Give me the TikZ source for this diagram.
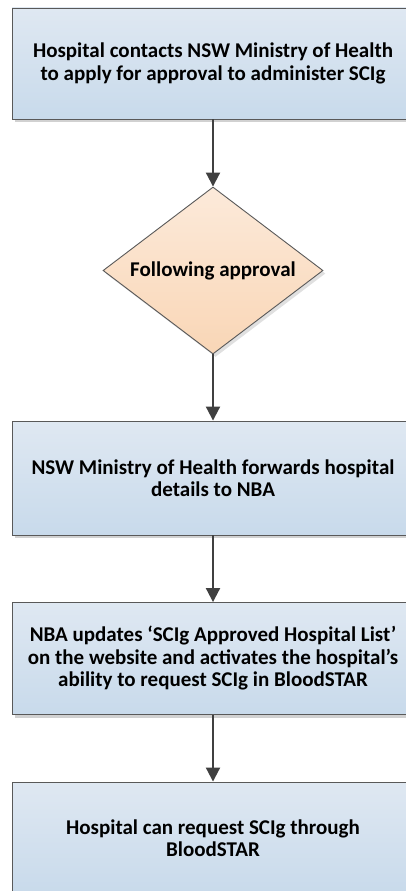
\documentclass[tikz,border=0pt]{standalone}
\usepackage{fontspec}
\setmainfont{Carlito}
\usetikzlibrary{shapes.geometric,arrows.meta,shadows}

\begin{document}
\begin{tikzpicture}[x=1pt,y=1pt,yscale=-1,
  stepbox/.style={draw={rgb,255:red,89;green,89;blue,89},line width=0.9pt,
    top color={rgb,255:red,223;green,232;blue,242},bottom color={rgb,255:red,200;green,218;blue,235},
    minimum width=402pt,inner sep=0pt,align=center,
    font=\fontsize{21}{22.5}\selectfont\bfseries,
    drop shadow={shadow xshift=2.5pt,shadow yshift=-3pt,fill=black!18,opacity=1}},
  decision/.style={diamond,aspect=1.32,draw={rgb,255:red,89;green,89;blue,89},line width=0.9pt,
    top color={rgb,255:red,252;green,234;blue,218},bottom color={rgb,255:red,249;green,214;blue,182},
    minimum width=220pt,minimum height=167pt,inner sep=0pt,
    font=\fontsize{21}{22.5}\selectfont\bfseries,
    drop shadow={shadow xshift=2.5pt,shadow yshift=-3pt,fill=black!12,opacity=1}},
  flow/.style={draw={rgb,255:red,64;green,64;blue,64},line width=2pt,
    -{Triangle[width=14pt,length=14pt]}}]
\useasboundingbox (0,0) rectangle (405,891);

\node [stepbox,minimum height=111pt] (apply) at (213,63.5) {Hospital contacts NSW Ministry of Health\\to apply for approval to administer SCIg};
\node [decision] (approval) at (213,270.5) {Following approval};
\node [stepbox,minimum height=114pt] (forward) at (213,478) {NSW Ministry of Health forwards hospital\\details to NBA};
\node [stepbox,minimum height=112pt] (update) at (213,658.5) {NBA updates ‘SCIg Approved Hospital List’\\on the website and activates the hospital’s\\ability to request SCIg in BloodSTAR};
\node [stepbox,minimum height=112pt] (request) at (213,838) {Hospital can request SCIg through\\BloodSTAR};

\draw [flow] (apply) -- (approval);
\draw [flow] (approval) -- (forward);
\draw [flow] (forward) -- (update);
\draw [flow] (update) -- (request);

\end{tikzpicture}
\end{document}
